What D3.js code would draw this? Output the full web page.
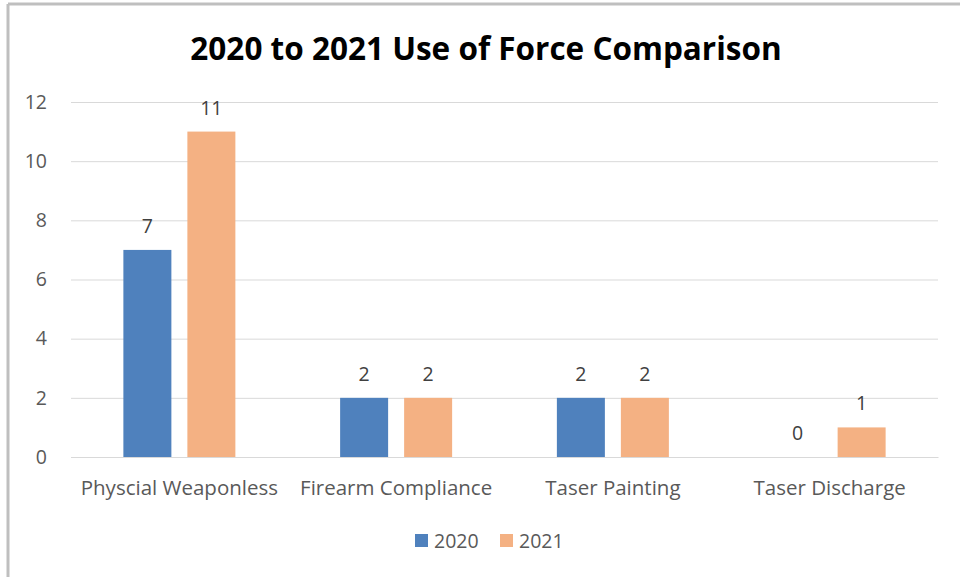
<!DOCTYPE html>
<html>
<head>
<meta charset="utf-8">
<script src="https://cdn.jsdelivr.net/npm/d3@7/dist/d3.min.js"></script>
<style>
  html, body { margin: 0; padding: 0; background: #fff; }
  svg { display: block; }
</style>
</head>
<body>
<svg id="chart" width="960" height="577"></svg>
<script>
// Use of force incidents by type, 2020 vs 2021
const categories = ["Physcial Weaponless", "Firearm Compliance", "Taser Painting", "Taser Discharge"];
const seriesNames = ["2020", "2021"];
const values2020 = [7, 2, 2, 0];
const values2021 = [11, 2, 2, 1];
const yTicks = [0, 2, 4, 6, 8, 10, 12];
const titleText = "2020 to 2021 Use of Force Comparison";

const colors = { "2020": "#4F81BD", "2021": "#F4B183" };
const seriesValues = { "2020": values2020, "2021": values2021 };
const FONT = "'Open Sans', sans-serif";
const LABEL_SIZE = 19.5;
const CAT_SIZE = 20.5;

const svg = d3.select("#chart");
const W = 960, H = 577;
const margin = { left: 71, right: 22, top: 102, bottom: 120 };
const plotW = W - margin.left - margin.right;
const plotH = H - margin.top - margin.bottom;

// Outer chart frame (left and top edges)
svg.append("line").attr("x1", 8).attr("x2", 8).attr("y1", 4).attr("y2", H)
  .attr("stroke", "#bfbfbf").attr("stroke-width", 3);
svg.append("line").attr("x1", 8).attr("x2", W).attr("y1", 4).attr("y2", 4)
  .attr("stroke", "#bfbfbf").attr("stroke-width", 3);

// Title
svg.append("text")
  .attr("x", 486).attr("y", 60)
  .attr("text-anchor", "middle")
  .attr("font-family", FONT)
  .attr("font-weight", "bold")
  .attr("font-size", 31.5)
  .attr("fill", "#000")
  .text(titleText);

const g = svg.append("g").attr("transform", `translate(${margin.left},${margin.top})`);

const x0 = d3.scaleBand().domain(categories).range([0, plotW]).paddingInner(0).paddingOuter(0);
const x1 = d3.scaleBand().domain(seriesNames).range([0, 112]).paddingInner(0.25);
const y = d3.scaleLinear().domain([0, 12]).range([plotH, 0]);

// Gridlines
g.append("g")
  .call(d3.axisLeft(y).tickValues(yTicks).tickSize(-plotW).tickFormat(""))
  .call(a => a.select(".domain").remove())
  .call(a => a.selectAll("line").attr("stroke", "#d9d9d9").attr("stroke-width", 1));

// Y tick labels
g.append("g")
  .call(d3.axisLeft(y).tickValues(yTicks).tickSize(0).tickPadding(24))
  .call(a => a.select(".domain").remove())
  .call(a => a.selectAll("text")
    .attr("font-family", FONT)
    .attr("font-size", LABEL_SIZE)
    .attr("fill", "#595959"));

// Bars
const groups = g.selectAll(".cat").data(categories).join("g")
  .attr("class", "cat")
  .attr("transform", d => `translate(${x0(d) + x0.bandwidth() / 2 - 56},0)`);

groups.selectAll("rect")
  .data((c, i) => seriesNames.map(s => ({ s, v: seriesValues[s][i] })))
  .join("rect")
  .attr("x", d => x1(d.s))
  .attr("y", d => y(d.v))
  .attr("width", x1.bandwidth())
  .attr("height", d => plotH - y(d.v))
  .attr("fill", d => colors[d.s]);

// Value labels
groups.selectAll("text.val")
  .data((c, i) => seriesNames.map(s => ({ s, v: seriesValues[s][i] })))
  .join("text")
  .attr("class", "val")
  .attr("x", d => x1(d.s) + x1.bandwidth() / 2)
  .attr("y", d => y(d.v) - 17)
  .attr("text-anchor", "middle")
  .attr("font-family", FONT)
  .attr("font-size", LABEL_SIZE)
  .attr("fill", "#404040")
  .text(d => d.v);

// X axis baseline and category labels
g.append("g")
  .attr("transform", `translate(0,${plotH})`)
  .call(d3.axisBottom(x0).tickSize(0).tickPadding(23))
  .call(a => a.select(".domain").attr("stroke", "#d9d9d9"))
  .call(a => a.selectAll("text")
    .attr("font-family", FONT)
    .attr("font-size", CAT_SIZE)
    .attr("fill", "#595959"));

// Legend
const legend = svg.append("g").attr("transform", "translate(415,541)");
const legendX = { "2020": 0, "2021": 85 };
seriesNames.forEach(s => {
  const lg = legend.append("g").attr("transform", `translate(${legendX[s]},0)`);
  lg.append("rect").attr("x", 0).attr("y", -7).attr("width", 13).attr("height", 13).attr("fill", colors[s]);
  lg.append("text").attr("x", 19).attr("y", 7)
    .attr("font-family", FONT)
    .attr("font-size", LABEL_SIZE)
    .attr("fill", "#595959")
    .text(s);
});
</script>
</body>
</html>
